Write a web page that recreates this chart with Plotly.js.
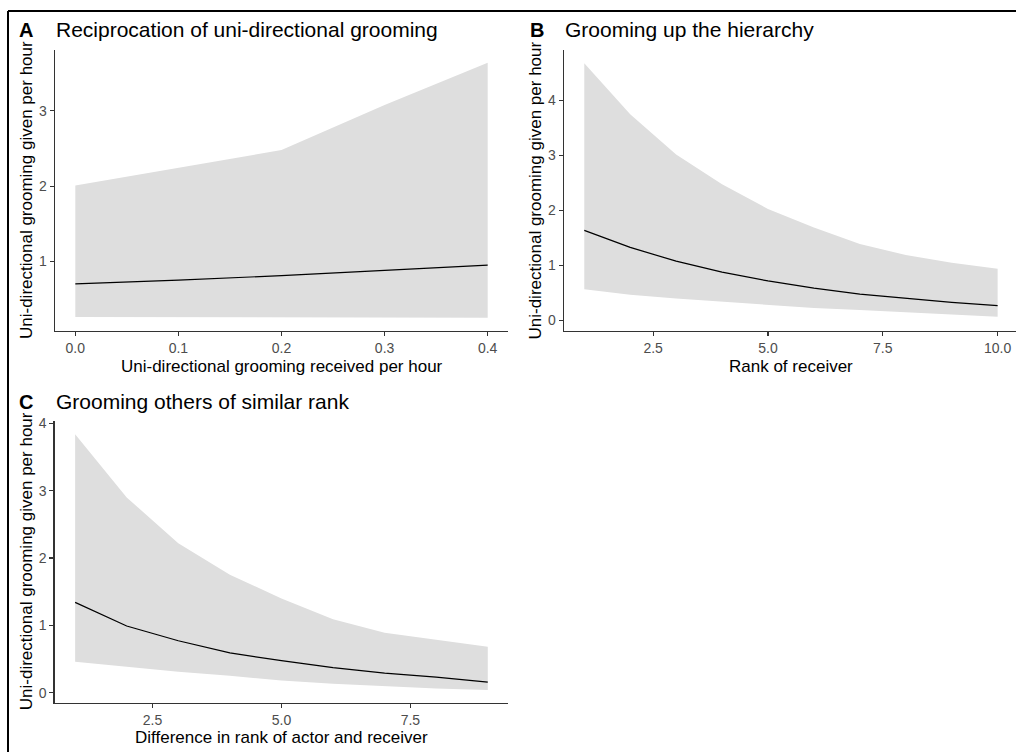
<!DOCTYPE html>
<html>
<head>
<meta charset="utf-8">
<script src="https://cdn.plot.ly/plotly-3.0.1.min.js"></script>
<style>html,body{margin:0;padding:0;background:#fff;}#chart{width:1016px;height:752px;}</style>
</head>
<body>
<div id="chart"></div>
<script>
// Panel A: reciprocation
const xA = [0, 0.1, 0.2, 0.3, 0.4];
const fitA = [0.70, 0.75, 0.81, 0.88, 0.95];
const lowA = [0.26, 0.26, 0.26, 0.25, 0.25];
const upA = [2.01, 2.24, 2.48, 3.08, 3.64];

// Panel B: rank of receiver
const xB = [1, 2, 3, 4, 5, 6, 7, 8, 9, 10];
const fitB = [1.64, 1.33, 1.08, 0.88, 0.72, 0.59, 0.48, 0.40, 0.33, 0.27];
const lowB = [0.57, 0.47, 0.40, 0.34, 0.28, 0.23, 0.19, 0.145, 0.11, 0.07];
const upB = [4.68, 3.75, 3.02, 2.48, 2.03, 1.69, 1.39, 1.19, 1.05, 0.94];

// Panel C: rank difference
const xC = [1, 2, 3, 4, 5, 6, 7, 8, 9];
const fitC = [1.34, 0.99, 0.77, 0.59, 0.475, 0.37, 0.29, 0.23, 0.155];
const lowC = [0.46, 0.38, 0.31, 0.25, 0.18, 0.13, 0.09, 0.06, 0.04];
const upC = [3.84, 2.90, 2.22, 1.75, 1.40, 1.09, 0.89, 0.78, 0.68];

const panelLetters = ['A', 'B', 'C'];
const panelTitles = ['Reciprocation of uni-directional grooming', 'Grooming up the hierarchy', 'Grooming others of similar rank'];
const xTitles = ['Uni-directional grooming received per hour', 'Rank of receiver', 'Difference in rank of actor and receiver'];
const yTitle = 'Uni-directional grooming given per hour';
const ticksA = [0, 0.1, 0.2, 0.3, 0.4];
const ticksB = [2.5, 5, 7.5, 10];
const ticksC = [2.5, 5, 7.5];

const W = 1016, H = 752;
const px = v => v / W;
const py = v => 1 - v / H;
const FONT = 'Liberation Sans, Arial, sans-serif';
const RIB = '#DEDEDE';

function panel(x, lo, hi, fit, xa, ya) {
  return [
    {x: x, y: lo, xaxis: xa, yaxis: ya, mode: 'lines', line: {width: 0, color: RIB}, hoverinfo: 'skip'},
    {x: x, y: hi, xaxis: xa, yaxis: ya, mode: 'lines', line: {width: 0, color: RIB}, fill: 'tonexty', fillcolor: RIB, hoverinfo: 'skip'},
    {x: x, y: fit, xaxis: xa, yaxis: ya, mode: 'lines', line: {width: 1.2, color: '#000'}}
  ];
}

const data = [].concat(
  panel(xA, lowA, upA, fitA, 'x', 'y'),
  panel(xB, lowB, upB, fitB, 'x2', 'y2'),
  panel(xC, lowC, upC, fitC, 'x3', 'y3')
);

const axBase = {
  showline: true, linecolor: '#333', linewidth: 1.1,
  ticks: 'outside', ticklen: 4, tickwidth: 1.1, tickcolor: '#333',
  showgrid: false, zeroline: false,
  tickfont: {family: FONT, size: 14, color: '#4D4D4D'}
};

const layout = {
  width: W, height: H,
  margin: {l: 0, r: 0, t: 0, b: 0},
  paper_bgcolor: '#fff', plot_bgcolor: '#fff',
  showlegend: false,
  xaxis: Object.assign({}, axBase, {domain: [px(54.7), px(508.3)], anchor: 'y', range: [-0.02, 0.42], tickvals: ticksA, tickformat: '.1f'}),
  yaxis: Object.assign({}, axBase, {domain: [py(331), py(50)], anchor: 'x', range: [0.074, 3.81], tickvals: [1, 2, 3]}),
  xaxis2: Object.assign({}, axBase, {domain: [px(563.6), 1], anchor: 'y2', range: [0.55, 10.40], tickvals: ticksB, tickformat: '.1f'}),
  yaxis2: Object.assign({}, axBase, {domain: [py(331), py(50)], anchor: 'x2', range: [-0.19, 4.92], tickvals: [0, 1, 2, 3, 4]}),
  xaxis3: Object.assign({}, axBase, {domain: [px(54.5), px(508.4)], anchor: 'y3', range: [0.6, 9.4], tickvals: ticksC, tickformat: '.1f'}),
  yaxis3: Object.assign({}, axBase, {domain: [py(702.7), py(420.7)], anchor: 'x3', range: [-0.15, 4.04], tickvals: [0, 1, 2, 3, 4]}),
  shapes: [
    {type: 'line', xref: 'paper', yref: 'paper', x0: px(8), x1: 1, y0: py(11), y1: py(11), line: {color: '#000', width: 2}},
    {type: 'line', xref: 'paper', yref: 'paper', x0: px(8), x1: px(8), y0: py(11), y1: 0, line: {color: '#000', width: 2}}
  ],
  annotations: []
};

const letterPos = [[16.7, 30], [528.3, 30], [16.7, 402]];
const titlePos = [[54.3, 30], [563.3, 30], [54.3, 402]];
for (let i = 0; i < 3; i++) {
  layout.annotations.push({xref: 'paper', yref: 'paper', x: px(letterPos[i][0]), y: py(letterPos[i][1]), xanchor: 'left', yanchor: 'middle', showarrow: false, text: '<b>' + panelLetters[i] + '</b>', font: {family: FONT, size: 20, color: '#000'}});
  layout.annotations.push({xref: 'paper', yref: 'paper', x: px(titlePos[i][0]), y: py(titlePos[i][1]), xanchor: 'left', yanchor: 'middle', showarrow: false, text: panelTitles[i], font: {family: FONT, size: 21, color: '#000'}});
}
const xtPos = [[281.5, 366], [791, 366], [281.5, 737.5]];
const ytPos = [[26.5, 190.5], [535, 190.5], [26.5, 561.7]];
for (let i = 0; i < 3; i++) {
  layout.annotations.push({xref: 'paper', yref: 'paper', x: px(xtPos[i][0]), y: py(xtPos[i][1]), xanchor: 'center', yanchor: 'middle', showarrow: false, text: xTitles[i], font: {family: FONT, size: 17, color: '#000'}});
  layout.annotations.push({xref: 'paper', yref: 'paper', x: px(ytPos[i][0]), y: py(ytPos[i][1]), xanchor: 'center', yanchor: 'middle', showarrow: false, textangle: -90, text: yTitle, font: {family: FONT, size: 17, color: '#000'}});
}

Plotly.newPlot('chart', data, layout, {staticPlot: true, displayModeBar: false});
</script>
</body>
</html>
